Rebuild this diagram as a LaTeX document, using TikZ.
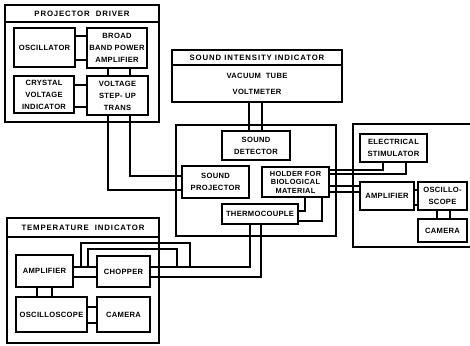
\documentclass[tikz,border=0pt]{standalone}
\usepackage{fontspec}
\newfontfamily\stencil{Liberation Sans}[LetterSpace=4]
\newfontfamily\stenciltl{Liberation Sans}[LetterSpace=11]
\usetikzlibrary{positioning}

\begin{document}
\begin{tikzpicture}[x=1pt, y=-1pt, line width=1.3pt,
  rec/.style={draw, line width=1.4pt, inner sep=1pt, align=center,
              font=\stencil\bfseries\fontsize{7.6}{12}\selectfont},
  grp/.style={draw, line width=1.5pt},
  ttl/.style={draw, line width=1.5pt, anchor=north, inner sep=1pt,
              font=\stenciltl\bfseries\fontsize{7.8}{8}\selectfont}]
  \useasboundingbox (0,0) rectangle (470,345);

  % projector driver
  \node[grp, minimum width=154pt, minimum height=117pt] (pd) at (82,63.5) {};
  \node[ttl, minimum width=154pt, minimum height=17pt] (pdt) at (pd.north) {PROJECTOR\ \ DRIVER};
  \node[rec, minimum width=61pt, minimum height=39pt] (osc) at (44.5,47.5) {OSCILLATOR};
  \node[rec, minimum width=60pt, minimum height=40pt] (bpa) at (117,48) {BROAD\\BAND POWER\\AMPLIFIER};
  \node[rec, minimum width=60pt, minimum height=37pt] (cvi) at (44,94.5) {CRYSTAL\\VOLTAGE\\INDICATOR};
  \node[rec, minimum width=61pt, minimum height=39pt] (vst) at (117.5,95.5) {VOLTAGE\\STEP- UP\\TRANS};
  \foreach \yy in {36,60} \draw (osc.east |- 0,\yy) -- (bpa.west |- 0,\yy);
  \foreach \yy in {85,107} \draw (cvi.east |- 0,\yy) -- (vst.west |- 0,\yy);
  \foreach \xx in {108,130} \draw (bpa.south -| \xx,0) -- (vst.north -| \xx,0);

  % sound intensity indicator
  \node[grp, minimum width=170pt, minimum height=52pt] (sii) at (257,76) {};
  \node[ttl, minimum width=170pt, minimum height=15pt] (siit) at (sii.north) {SOUND\ INTENSITY\ INDICATOR};
  \node[align=center, font=\stencil\bfseries\fontsize{7.6}{16}\selectfont] (vtv) at (257,83.5) {VACUUM\ \ TUBE\\VOLTMETER};

  % chamber
  \node[grp, minimum width=160pt, minimum height=111pt] (chm) at (256,180.5) {};
  \node[rec, minimum width=68pt, minimum height=29pt] (sdt) at (256,145.5) {SOUND\\DETECTOR};
  \node[rec, minimum width=67pt, minimum height=32pt] (spj) at (215.5,182) {SOUND\\PROJECTOR};
  \node[rec, minimum width=67pt, minimum height=30pt,
        font=\stencil\bfseries\fontsize{7.4}{8.5}\selectfont] (hbm) at (295.5,182) {HOLDER FOR\\BIOLOGICAL\\MATERIAL};
  \node[rec, minimum width=76pt, minimum height=20pt] (thc) at (260,214) {THERMOCOUPLE};
  \foreach \xx in {249,262} \draw (sii.south -| \xx,0) -- (sdt.north -| \xx,0);
  \draw (vst.south -| 108,0) |- (spj.west |- 0,190);
  \draw (vst.south -| 130,0) |- (spj.west |- 0,176);
  \draw (hbm.south -| 305,0) |- (thc.east |- 0,211);
  \draw (hbm.south -| 322,0) |- (thc.east |- 0,221);

  % stimulation and recording
  \draw[line width=1.5pt] (470,124) -| (353,247) -- (470,247);
  \node[rec, minimum width=67pt, minimum height=28pt] (est) at (393.5,148) {ELECTRICAL\\STIMULATOR};
  \node[rec, minimum width=54pt, minimum height=28pt] (amr) at (387,196) {AMPLIFIER};
  \node[rec, minimum width=49pt, minimum height=28pt] (osr) at (442.5,196) {OSCILLO-\\SCOPE};
  \node[rec, minimum width=49pt, minimum height=23pt] (cmr) at (442.5,230.5) {CAMERA};
  \draw (hbm.east |- 0,170) -| (est.south -| 383,0);
  \draw (hbm.east |- 0,174) -| (est.south -| 406,0);
  \foreach \yy in {186,192} \draw (hbm.east |- 0,\yy) -- (amr.west |- 0,\yy);
  \foreach \yy in {190,205} \draw (amr.east |- 0,\yy) -- (osr.west |- 0,\yy);
  \foreach \xx in {437,450} \draw (osr.south -| \xx,0) -- (cmr.north -| \xx,0);

  % temperature indicator
  \node[grp, minimum width=152pt, minimum height=125pt] (ti) at (83,280.5) {};
  \node[ttl, minimum width=152pt, minimum height=19pt] (tit) at (ti.north) {TEMPERATURE\ \ INDICATOR};
  \node[rec, minimum width=57pt, minimum height=32pt] (ampt) at (44.5,271) {AMPLIFIER};
  \node[rec, minimum width=53pt, minimum height=31pt] (chp) at (123.5,271.5) {CHOPPER};
  \node[rec, minimum width=71pt, minimum height=35pt] (osct) at (51.5,314.5) {OSCILLOSCOPE};
  \node[rec, minimum width=53pt, minimum height=35pt] (camt) at (123.5,314.5) {CAMERA};
  \foreach \xx in {37,52} \draw (ampt.south -| \xx,0) -- (osct.north -| \xx,0);
  \foreach \yy in {307,323} \draw (osct.east |- 0,\yy) -- (camt.west |- 0,\yy);
  \foreach \yy in {267,277} \draw (ampt.east |- 0,\yy) -- (chp.west |- 0,\yy);
  \draw (chp.east |- 0,267) -| (thc.south -| 250,0);
  \draw (chp.east |- 0,277) -| (thc.south -| 261,0);
  \coordinate (lpa) at (81,267);
  \coordinate (lpb) at (190,267);
  \coordinate (lpc) at (88,267);
  \coordinate (lpd) at (177,267);
  \draw (lpa) -- ++(0,-24) -| (lpb);
  \draw (lpc) -- ++(0,-18) -| (lpd);
\end{tikzpicture}
\end{document}
